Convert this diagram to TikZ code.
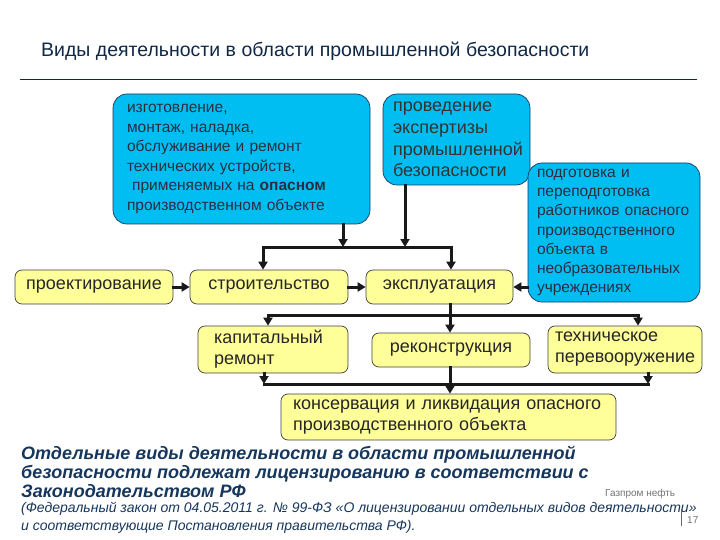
\documentclass[tikz,border=0pt]{standalone}
\usepackage{fontspec}
\setmainfont{Liberation Sans}
\usepackage{tikz}
\usetikzlibrary{arrows.meta,calc,positioning}

\definecolor{boxcyan}{RGB}{0,190,242}
\definecolor{boxnavy}{RGB}{25,55,95}
\definecolor{boxyel}{RGB}{255,255,153}
\definecolor{txtgray}{RGB}{45,45,65}
\definecolor{titlenavy}{RGB}{15,40,70}
\definecolor{notenavy}{RGB}{22,54,92}
\newcommand{\fsz}[2]{\fontsize{#1}{#2}\selectfont}

\begin{document}
\begin{tikzpicture}[x=1pt,y=-1pt,
  bluebox/.style={draw=boxnavy,fill=boxcyan,line width=0.7pt,rounded corners=14pt,align=left,text=txtgray},
  yelbox/.style={draw=black!75,fill=boxyel,line width=0.7pt,rounded corners=7pt,text=black!85,font=\fsz{18}{21}},
  link/.style={line width=3pt,line cap=rect,black!90},
  arr/.style={link,-{Triangle[length=8pt,width=9pt]}}]
\useasboundingbox (0,0) rectangle (720,540);
\node[text=titlenavy,font=\fsz{19.5}{23},anchor=base west,inner sep=0] (title) at (41,57) {Виды деятельности в области промышленной безопасности};
\coordinate (rl) at (20,79);
\coordinate (rr) at (697,79);
\draw[line width=0.8pt,titlenavy] (rl) -- (rr);

\node[bluebox,font=\fsz{15.5}{19.5},text width=229,inner xsep=14,minimum height=130] (izgot) at (241.5,159) {изготовление,\\монтаж, наладка,\\обслуживание и ремонт\\технических устройств,\\\ применяемых на \textbf{опасном}\\производственном объекте};
\node[bluebox,font=\fsz{18}{21.7},text=black!80,text width=127,inner xsep=10,minimum height=91] (ekspert) at (456.5,139.5) {проведение\\экспертизы\\промышленной\\безопасности};
\node[bluebox,font=\fsz{15.5}{19.2},text width=162,inner xsep=5,minimum height=139] (podgot) at (614,232.5) {\hspace*{4pt}подготовка и\\\hspace*{4pt}переподготовка\\\hspace*{4pt}работников опасного\\\hspace*{4pt}производственного\\\hspace*{4pt}объекта в\\\hspace*{4pt}необразовательных\\\hspace*{4pt}учреждениях};

\node[yelbox,minimum width=158,minimum height=34] (proekt) at (94,287) {проектирование};
\node[yelbox,minimum width=158,minimum height=34] (stroit) at (269,287) {строительство};
\node[yelbox,minimum width=147,minimum height=34] (ekspl) at (439.5,287) {эксплуатация};
\node[yelbox,align=left,text width=118,inner xsep=16,minimum height=47] (kapit) at (273,349.5) {капитальный\\ремонт};
\node[yelbox,minimum width=158,minimum height=34] (rekon) at (451,350) {реконструкция};
\node[yelbox,align=left,text width=140,inner xsep=7,minimum height=47] (tekhn) at (625,349.5) {техническое\\перевооружение};
\node[yelbox,align=left,text width=311,inner xsep=12,minimum height=46] (konserv) at (448.5,417) {консервация и ликвидация опасного\\производственного объекта};

\draw[arr] (proekt) -- (stroit);
\draw[arr] (stroit) -- (ekspl);
\draw[arr] (podgot.west |- ekspl.east) -- (ekspl.east);

\coordinate (t1) at (263,247);
\coordinate (t2) at (343,247);
\coordinate (t3) at (405,247);
\coordinate (t4) at (451,247);
\draw[link] (t1) -- (t4);
\draw[arr] (izgot.south -| t2) -- (t2);
\draw[arr] (ekspert.south -| t3) -- (t3);
\draw[arr] (t1) -- (t1 |- stroit.north);
\draw[arr] (t4) -- (t4 |- ekspl.north);

\coordinate (m1) at (268,315);
\coordinate (m2) at (450,315);
\coordinate (m3) at (638,315);
\draw[link] (m1) -- (m3);
\draw[arr] (ekspl.south -| m2) -- (m2 |- rekon.north);
\draw[arr] (m1) -- (m1 |- kapit.north);
\draw[arr] (m3) -- (m3 |- tekhn.north);

\coordinate (b1) at (264,384);
\coordinate (b2) at (450,384);
\coordinate (b3) at (648,384);
\draw[link] (b1) -- (b3);
\draw[arr] (kapit.south -| b1) -- (b1);
\draw[arr] (tekhn.south -| b3) -- (b3);
\draw[arr] (rekon.south -| b2) -- (b2 |- konserv.north);

\node[anchor=north west,align=left,inner sep=0,text=notenavy,font=\fsz{18}{19}\bfseries\itshape] (note) at (21,445.5) {Отдельные виды деятельности в области промышленной\\безопасности подлежат лицензированию в соответствии с\\Законодательством РФ};
\node[anchor=north west,align=left,inner sep=0,text=notenavy,font=\fsz{14}{18}\itshape] (law) at (21,502) {(Федеральный закон от 04.05.2011 г. № 99-ФЗ  «О лицензировании отдельных видов деятельности»\\и соответствующие Постановления правительства РФ).};
\node[anchor=base west,inner sep=0,text=black!55,font=\fsz{10}{12}] (brand) at (605,496) {Газпром нефть};
\node[anchor=base west,inner sep=0,text=black!55,font=\fsz{10}{12}] (pnum) at (687,523) {17};
\coordinate (p1) at (681,509);
\coordinate (p2) at (681,526);
\draw[black!60,line width=0.5pt] (p1) -- (p2);
\end{tikzpicture}
\end{document}
